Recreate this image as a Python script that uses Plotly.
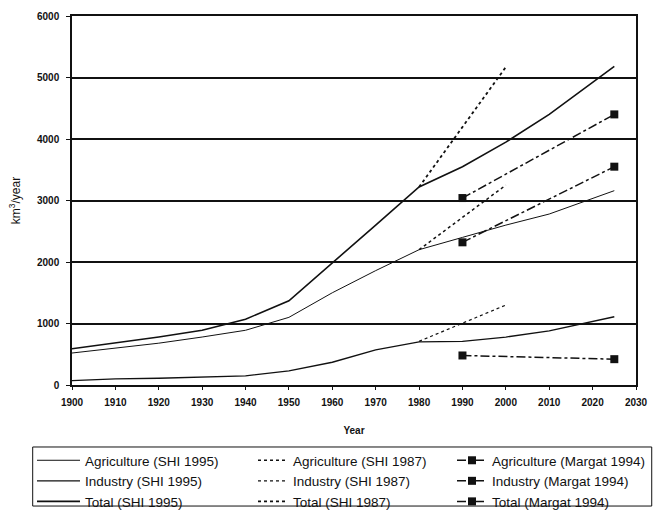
import plotly.graph_objects as go

# SHI 1995 (solid)
years_shi95 = [1900, 1910, 1920, 1930, 1940, 1950, 1960, 1970, 1980, 1990, 2000, 2010, 2025]
agri_shi95 = [520, 600, 680, 780, 890, 1100, 1500, 1860, 2200, 2400, 2600, 2780, 3160]
ind_shi95 = [70, 100, 110, 130, 150, 230, 370, 570, 700, 710, 780, 880, 1110]
tot_shi95 = [590, 680, 780, 890, 1070, 1370, 1980, 2600, 3220, 3550, 3950, 4400, 5180]

# SHI 1987 (dotted)
years_shi87 = [1980, 2000]
agri_shi87 = [2200, 3250]
ind_shi87 = [710, 1300]
tot_shi87 = [3220, 5170]

# Margat 1994 (dash-dot with markers)
years_margat = [1990, 2025]
agri_margat = [2320, 3550]
ind_margat = [480, 420]
tot_margat = [3040, 4400]

x_ticks = list(range(1900, 2031, 10))
y_ticks = list(range(0, 6001, 1000))

fig = go.Figure()
black = "#111111"

def add(name, x, y, dash, width, legend, mode="lines", marker=None):
    fig.add_trace(go.Scatter(
        x=x, y=y, name=name, mode=mode, legend=legend,
        line=dict(color=black, width=width, dash=dash),
        marker=marker if marker else dict(),
    ))

sq = dict(symbol="square", size=8, color=black)
add("Agriculture (SHI 1995)", years_shi95, agri_shi95, "solid", 1.0, "legend")
add("Industry (SHI 1995)", years_shi95, ind_shi95, "solid", 1.3, "legend")
add("Total (SHI 1995)", years_shi95, tot_shi95, "solid", 1.6, "legend")
add("Agriculture (SHI 1987)", years_shi87, agri_shi87, "dot", 1.5, "legend2")
add("Industry (SHI 1987)", years_shi87, ind_shi87, "dot", 1.2, "legend2")
add("Total (SHI 1987)", years_shi87, tot_shi87, "dot", 1.8, "legend2")
add("Agriculture (Margat 1994)", years_margat, agri_margat, "dashdot", 1.5, "legend3", "lines+markers", sq)
add("Industry (Margat 1994)", years_margat, ind_margat, "dashdot", 1.5, "legend3", "lines+markers", sq)
add("Total (Margat 1994)", years_margat, tot_margat, "dashdot", 1.5, "legend3", "lines+markers", sq)

tickfont = dict(family="Arial", size=10, color=black, weight="bold")
legfont = dict(family="Arial", size=13.5, color=black)

W, H = 658, 510

def leg(xpx, itemwidth):
    # horizontal legend forced to one entry per row -> acts as one column
    return dict(
        orientation="h", xref="container", yref="container",
        x=xpx / W, y=1 - 445 / H, xanchor="left", yanchor="top",
        font=legfont, borderwidth=0, bgcolor="rgba(0,0,0,0)",
        itemwidth=itemwidth, tracegroupgap=0,
        entrywidth=300, entrywidthmode="pixels",
    )

# plot area in pixels: x 72..646, y 10..385
def px_x(p):
    return (p - 72) / 574

def px_y(p):
    return (385 - p) / 375

fig.update_layout(
    width=W, height=H,
    margin=dict(l=72, r=12, t=10, b=125),
    paper_bgcolor="white", plot_bgcolor="white",
    font=dict(family="Arial", color=black),
    showlegend=True,
    legend=leg(32, 43),
    legend2=leg(253, 30),
    legend3=leg(452, 30),
    shapes=[dict(
        type="rect", xref="paper", yref="paper",
        x0=px_x(32), x1=px_x(662), y0=px_y(508), y1=px_y(448),
        line=dict(color=black, width=1), fillcolor="rgba(0,0,0,0)", layer="below",
    )],
    xaxis=dict(
        range=[1900, 2030], tickmode="array", tickvals=x_ticks,
        ticktext=[str(v) for v in x_ticks], tickfont=tickfont,
        showgrid=False, zeroline=False, showline=True, linecolor=black,
        linewidth=1.5, mirror=True, ticks="outside", ticklen=3, tickcolor=black,
        ticklabelstandoff=4,
        title=dict(text="Year", font=dict(family="Arial", size=10, color=black, weight="bold"), standoff=20),
    ),
    yaxis=dict(
        range=[0, 6000], tickmode="array", tickvals=y_ticks,
        ticktext=[str(v) for v in y_ticks], tickfont=tickfont,
        showgrid=True, gridcolor=black, gridwidth=1.8, zeroline=False,
        showline=True, linecolor=black, linewidth=1.5, mirror=True,
        ticks="outside", ticklen=4, tickcolor=black, ticklabelstandoff=5,
        title=dict(text="km<sup>3</sup>/year", font=dict(family="Arial", size=12, color=black), standoff=14),
    ),
)

fig.write_html("out.html")
